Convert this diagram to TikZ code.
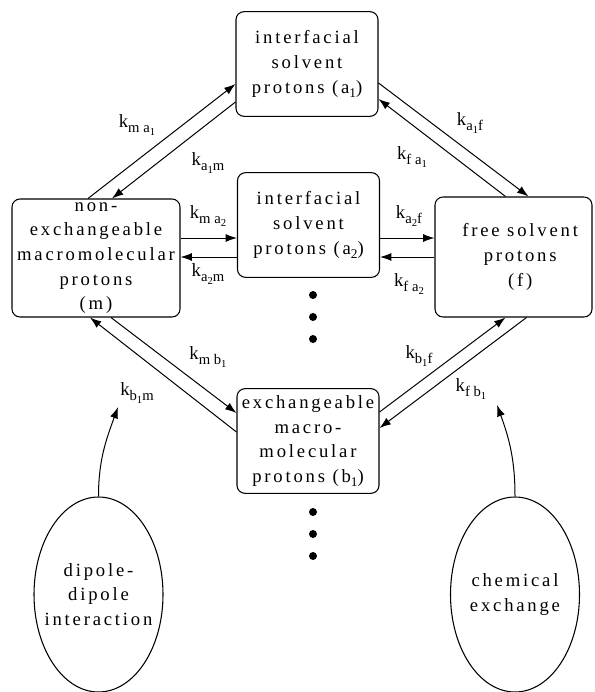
\documentclass[tikz,border=0pt]{standalone}
\usepackage{fontspec}
\setmainfont{Liberation Serif}[LetterSpace=15]
\usetikzlibrary{arrows.meta,calc,shapes.geometric}
\tikzset{
  box/.style={draw,rounded corners=6pt,line width=0.8pt,align=center,inner sep=1pt,font=\fontsize{14}{18.5}\selectfont},
  pool/.style={draw,rounded corners=6pt,line width=0.8pt,minimum width=106.5pt,minimum height=78.5pt},
  source/.style={draw,ellipse,line width=0.8pt,minimum width=96.75pt,minimum height=146.25pt},
  caption/.style={align=center,font=\fontsize{14}{18.5}\selectfont},
  rate/.style={inner sep=0pt,font=\fontsize{14}{16}\selectfont},
  arr/.style={line width=0.75pt,-{Latex[length=8.5pt,width=6pt]}},
}
\newcommand{\kr}[1]{k\raisebox{-4pt}{\fontsize{11}{12}\selectfont\addfontfeature{LetterSpace=25}#1}}
\newcommand{\sbs}[1]{\raisebox{-2.5pt}{\fontsize{8}{9}\selectfont #1}}
\newcommand{\bsub}[1]{\raisebox{-3pt}{\fontsize{10}{12}\selectfont #1}}
\begin{document}
\begin{tikzpicture}[x=0.75pt,y=0.75pt,yscale=-1,xscale=1]
\useasboundingbox (0,0) rectangle (594,692);

%Shape: Rounded Rectangles
\node[box,pool] (a1) at (307,64) {interfacial\\solvent\\protons (a\bsub{1})};
\node[box,pool] (a2) at (308.5,225) {interfacial\\solvent\\protons (a\bsub{2})};
\node[box,pool] (b1) at (308,441) {exchangeable\\macro-\\molecular\\protons (b\bsub{1})};
\node[box,minimum width=126pt,minimum height=88.5pt] (m) at (96,258) {non-\\exchangeable\\macromolecular\\protons\\(m)};
\node[box,minimum width=117.75pt,minimum height=90pt,label={[caption,xshift=5pt]center:free solvent\\protons\\(f)}] (f) at (513.5,257) {};

%Shape: Ellipses
\node[source,label={[caption]center:dipole-\\dipole\\interaction}] (dd) at (98.5,594.5) {};
\node[source,label={[caption]center:chemical\\exchange}] (ce) at (515,594.5) {};

%Straight Lines: m <-> a1
\draw[arr] ($(m.north)+(-8,0)$) -- ($(a1.west)+(0,20)$);
\draw[arr] ($(a1.west)+(0,38)$) -- ($(m.north)+(16,0)$);
%Straight Lines: a1 <-> f
\draw[arr] ($(a1.east)+(0,19)$) -- ($(f.north)+(15,0)$);
\draw[arr] ($(f.north)+(-8,0)$) -- ($(a1.east)+(0,35)$);
%Straight Lines: m <-> a2
\draw[arr] ($(m.east)+(0,-20)$) -- ($(a2.west)+(0,13)$);
\draw[arr] ($(a2.west)+(0,32)$) -- ($(m.east)+(0,-1)$);
%Straight Lines: a2 <-> f
\draw[arr] ($(a2.east)+(0,13)$) -- ($(f.west)+(0,-19)$);
\draw[arr] (f.west) -- ($(a2.east)+(0,32)$);
%Straight Lines: m <-> b1
\draw[arr] ($(m.south)+(15,0)$) -- ($(b1.west)+(0,-28)$);
\draw[arr] ($(b1.west)+(0,-9)$) -- ($(m.south)+(-6,0)$);
%Straight Lines: b1 <-> f
\draw[arr] ($(b1.east)+(0,-29)$) -- ($(f.south)+(-8,0)$);
\draw[arr] ($(f.south)+(13,0)$) -- ($(b1.east)+(0,-13)$);

%Curve Lines
\coordinate (dd tip) at (118,407);
\coordinate (ce tip) at (497,405);
\draw[arr] (dd.north) to[out=-90,in=110] (dd tip);
\draw[arr] (ce.north) to[out=-90,in=70] (ce tip);

%Shape: Dots
\foreach \y in {295,317,339,512,534,556}
  \fill (313,\y) circle (3pt);

% Text Node
\node[rate] (kma1) at (137,125) {\kr{ma\sbs{1}}};
\node[rate] (ka1m) at (208,163) {\kr{a\sbs{1}m}};
\node[rate] (kma2) at (208,216) {\kr{ma\sbs{2}}};
\node[rate] (ka2m) at (208,274) {\kr{a\sbs{2}m}};
\node[rate] (ka1f) at (470,123) {\kr{a\sbs{1}f}};
\node[rate] (kfa1) at (412,157) {\kr{fa\sbs{1}}};
\node[rate] (ka2f) at (409,216) {\kr{a\sbs{2}f}};
\node[rate] (kfa2) at (409,284) {\kr{fa\sbs{2}}};
\node[rate] (kmb1) at (208,357) {\kr{mb\sbs{1}}};
\node[rate] (kb1m) at (137,393) {\kr{b\sbs{1}m}};
\node[rate] (kb1f) at (419,356) {\kr{b\sbs{1}f}};
\node[rate] (kfb1) at (471,389) {\kr{fb\sbs{1}}};

\end{tikzpicture}
\end{document}
